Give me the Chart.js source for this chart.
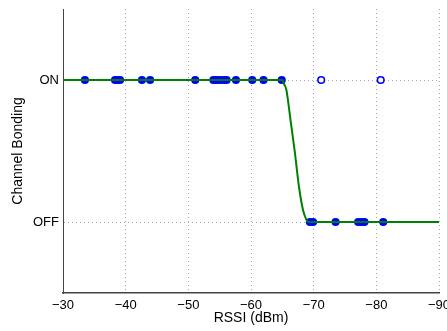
<!DOCTYPE html>
<html>
<head>
<meta charset="utf-8">
<script src="https://cdn.jsdelivr.net/npm/chart.js@4/dist/chart.umd.min.js"></script>
<style>
html,body{margin:0;padding:0;background:#fff;}
#wrap{width:447px;height:331px;position:relative;}
</style>
</head>
<body>
<div id="wrap"><canvas id="c" width="447" height="331"></canvas></div>
<script>
// RSSI (dBm) of measurements where channel bonding was ON and on the fit
const onRssi = [-33.5, -38.3, -38.7, -39.1, -42.6, -43.9, -51.1, -54.0, -54.5, -55.0, -55.6, -56.1, -57.6, -60.2, -62.0, -64.9];
// ON measurements away from the fitted curve
const onOutlierRssi = [-71.2, -80.7];
// RSSI (dBm) of measurements where channel bonding was OFF
const offRssi = [-69.4, -69.9, -73.5, -77.1, -77.6, -78.1, -81.1];
// fitted curve
const curveRssi = [-30, -65.0, -65.3, -65.65, -66.3, -67.0, -67.65, -68.3, -68.85, -69.1, -90];
const curveState = [1, 1, 0.97, 0.93, 0.72, 0.49, 0.25, 0.085, 0.015, 0, 0];
// axis ticks
const xTicks = [-30, -40, -50, -60, -70, -80, -90];
const yTickValues = [0, 1];
const yTickLabels = ['OFF', 'ON'];

const ON = 1, OFF = 0;
const blue = '#0000ff', green = '#008000';

const pts = (arr, v) => arr.map(x => ({x: x, y: v}));

new Chart(document.getElementById('c'), {
  type: 'scatter',
  data: {
    datasets: [
      {
        type: 'line',
        data: curveRssi.map((x, i) => ({x: x, y: curveState[i]})),
        borderColor: green,
        borderWidth: 2,
        pointRadius: 0,
        cubicInterpolationMode: 'monotone',
        fill: false,
        order: 0
      },
      {
        data: pts(onRssi, ON).concat(pts(offRssi, OFF)),
        borderColor: blue,
        backgroundColor: blue,
        pointRadius: 3.3,
        pointBorderWidth: 1.6,
        order: 1
      },
      {
        data: pts(onOutlierRssi, ON),
        borderColor: blue,
        backgroundColor: '#ffffff',
        pointRadius: 3.3,
        pointBorderWidth: 1.6,
        order: 1
      }
    ]
  },
  options: {
    responsive: false,
    animation: false,
    events: [],
    layout: {padding: {top: 9, right: 8, left: 0, bottom: 0}},
    plugins: {legend: {display: false}, tooltip: {enabled: false}},
    scales: {
      x: {
        type: 'linear',
        min: -90, max: -30,
        reverse: true,
        afterFit: s => { s.height = 38; s.paddingLeft = 0; s.paddingRight = 0; },
        afterBuildTicks: s => { s.ticks = xTicks.map(v => ({value: v})); },
        grid: {
          color: '#a8a8a8',
          lineWidth: 1,
          drawTicks: false
        },
        border: {display: true, color: '#444', width: 1.5, dash: [1, 3]},
        ticks: {
          padding: 5,
          color: '#000',
          font: {family: 'Liberation Sans, Arial, sans-serif', size: 13},
          maxRotation: 0,
          callback: v => String(v).replace('-', '\u2212')
        },
        title: {
          display: true,
          text: 'RSSI (dBm)',
          color: '#000',
          font: {family: 'Liberation Sans, Arial, sans-serif', size: 14},
          padding: {top: 0, bottom: 4}
        }
      },
      y: {
        type: 'linear',
        min: -0.5, max: 1.5,
        afterFit: s => { s.width = 63; s.paddingTop = 0; s.paddingBottom = 0; },
        afterBuildTicks: s => { s.ticks = yTickValues.map(v => ({value: v})); },
        grid: {
          color: '#a8a8a8',
          lineWidth: 1,
          drawTicks: false
        },
        border: {display: true, color: '#444', width: 1, dash: [1, 3]},
        ticks: {
          padding: 4,
          color: '#000',
          font: {family: 'Liberation Sans, Arial, sans-serif', size: 13},
          callback: v => yTickLabels[yTickValues.indexOf(v)]
        },
        title: {
          display: true,
          text: 'Channel Bonding',
          color: '#000',
          font: {family: 'Liberation Sans, Arial, sans-serif', size: 14},
          padding: {top: 10, bottom: 0}
        }
      }
    }
  }
});
</script>
</body>
</html>
